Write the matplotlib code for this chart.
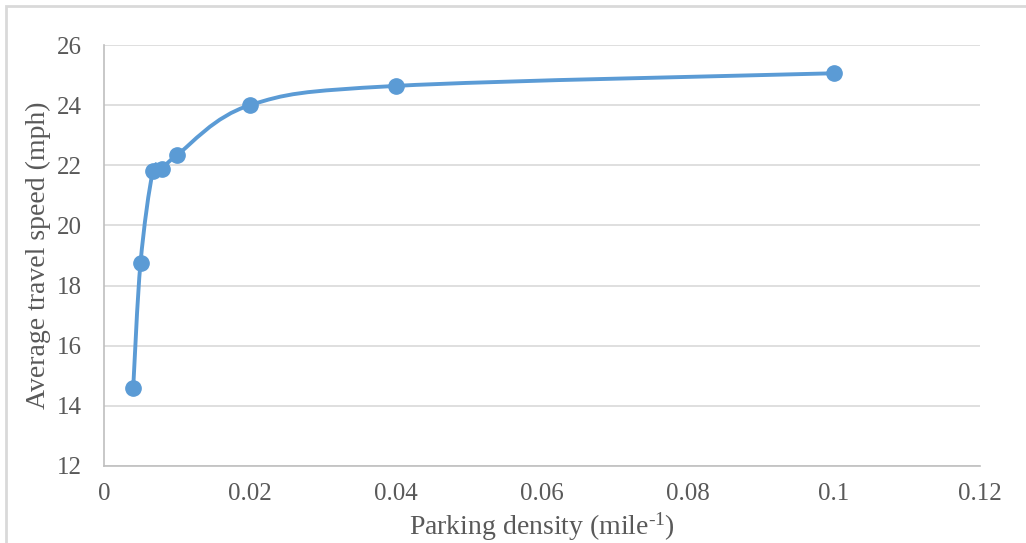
import matplotlib
matplotlib.use("Agg")
import matplotlib.pyplot as plt
import numpy as np
from matplotlib.path import Path
from matplotlib.patches import PathPatch, Rectangle

plt.rcParams["font.family"] = ["Liberation Serif", "DejaVu Serif"]
plt.rcParams["mathtext.fontset"] = "custom"
plt.rcParams["mathtext.rm"] = "Liberation Serif"
plt.rcParams["mathtext.it"] = "Liberation Serif:italic"

density = [0.004, 0.005, 0.0067, 0.008, 0.01, 0.02, 0.04, 0.1]
speed = [14.6, 18.75, 21.8, 21.87, 22.34, 24.0, 24.64, 25.06]

BLUE = "#5B9BD5"
GREY = "#595959"
XMAX, YMIN, YMAX = 0.12, 12, 26


def smooth_path(x, y, sx, sy):
    # Excel-style smoothed line: Catmull-Rom as cubic Bezier, computed in screen-ish units
    p = np.column_stack([np.asarray(x) / sx, np.asarray(y) / sy])
    verts = [p[0]]
    codes = [Path.MOVETO]
    n = len(p)
    for i in range(n - 1):
        p0 = p[i - 1] if i > 0 else p[i]
        p3 = p[i + 2] if i + 2 < n else p[i + 1]
        c1 = p[i] + (p[i + 1] - p0) / 6
        c2 = p[i + 1] - (p3 - p[i]) / 6
        verts += [c1, c2, p[i + 1]]
        codes += [Path.CURVE4] * 3
    v = np.array(verts) * [sx, sy]
    return Path(v, codes)


fig = plt.figure(figsize=(10.26, 5.43), dpi=100)
ax = fig.add_axes([104 / 1026, 77 / 543, 876 / 1026, 421 / 543])

ax.add_patch(PathPatch(smooth_path(density, speed, XMAX, YMAX - YMIN),
                       fill=False, edgecolor=BLUE, lw=2.8, capstyle="round", zorder=3))
ax.plot(density, speed, "o", color=BLUE, ms=11, zorder=4)

ax.set_xlim(0, XMAX)
ax.set_ylim(YMIN, YMAX)
ax.set_xticks(np.arange(0, 0.121, 0.02))
ax.set_xticklabels(["0", "0.02", "0.04", "0.06", "0.08", "0.1", "0.12"])
ax.set_yticks(range(12, 27, 2))
ax.grid(axis="y", color="#D9D9D9", lw=1.2)
ax.set_axisbelow(True)
for s in ("top", "right"):
    ax.spines[s].set_visible(False)
for s in ("left", "bottom"):
    ax.spines[s].set_color("#BFBFBF")
    ax.spines[s].set_linewidth(1.2)
ax.tick_params(length=0, labelsize=18, colors=GREY, pad=12)
ax.tick_params(axis="y", pad=16)
ax.set_xlabel("Parking density (mile$^{\\text{-}1}$)", fontsize=20, color=GREY, labelpad=4)
ax.set_ylabel("Average travel speed (mph)", fontsize=20, color=GREY, labelpad=4)

fig.patches.append(Rectangle((6 / 1026, -0.05), 1.1, (543 - 6) / 543 + 0.05,
                             transform=fig.transFigure, fill=False,
                             edgecolor="#D9D9D9", lw=2))

fig.savefig("out.png", dpi=100, facecolor="white")
